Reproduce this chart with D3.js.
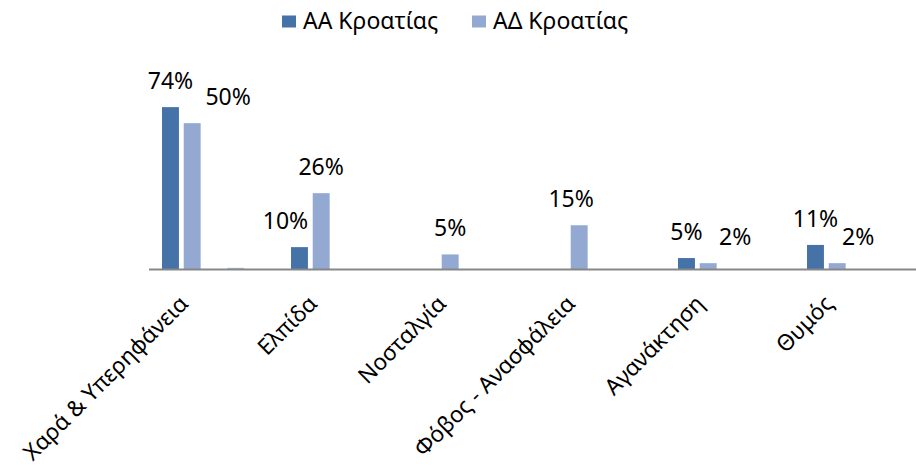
<!DOCTYPE html>
<html><head><meta charset="utf-8">
<script src="https://cdn.jsdelivr.net/npm/d3@7"></script>
<style>body{margin:0;background:#fff;}svg{display:block;font-family:"Noto Sans",sans-serif;}</style>
</head><body><svg id="c" width="916" height="472"></svg>
<script>
// data
const cats = ["Χαρά & Υπερηφάνεια","Ελπίδα","Νοσταλγία","Φόβος - Ανασφάλεια","Αγανάκτηση","Θυμός"];
const seriesNames = ["ΑΑ Κροατίας","ΑΔ Κροατίας"];
const aaValues = [74, 10, 0, 0, 5, 11];
const adValues = [50, 26, 5, 15, 2, 2];
const extraValues = [0.4, 0, 0, 0, 0, 0];
const aaLabels = ["74%","10%","","","5%","11%"];
const adLabels = ["50%","26%","5%","15%","2%","2%"];

// layout (not data)
const aaLabelDx = [0,-14,0,0,0,0];
const adLabelDx = [36,0,0,-8,27,21];
const colors = {aa:"#4572A7", ad:"#93A9D1", extra:"#A8BCD9"};
const FS = 23;

const svg = d3.select("#c");
const baseY = 269;
const x = d3.scaleBand().domain(cats).range([149, 923]);
const slot = d3.scaleBand().domain(["aa","ad","s3","extra","s5"]).range([13, 116.8]).paddingInner(0.22).paddingOuter(0);
const yAA = d3.scaleLinear().domain([0, 80]).range([baseY, baseY - 175]);
const yAD = d3.scaleLinear().domain([0, 60]).range([baseY, baseY - 175]);

function drawSeries(vals, key, scale, color){
  svg.append("g").selectAll("rect").data(vals.map((v,i)=>({v,c:cats[i]})).filter(d=>d.v>0))
    .join("rect")
    .attr("x", d => x(d.c) + slot(key))
    .attr("width", slot.bandwidth())
    .attr("y", d => scale(d.v))
    .attr("height", d => baseY - scale(d.v))
    .attr("fill", color);
}
drawSeries(aaValues, "aa", yAA, colors.aa);
drawSeries(adValues, "ad", yAD, colors.ad);
drawSeries(extraValues, "extra", yAD, colors.extra);

// axis line
const xAxis = d3.axisBottom(x).tickSize(0).tickFormat("");
const ax = svg.append("g").attr("transform", `translate(0,${baseY+0.5})`).call(xAxis);
ax.select(".domain").attr("stroke", "#878787").attr("stroke-width", 2).attr("d", "M149,0H923");

// category labels
svg.append("g").selectAll("text").data(cats).join("text")
  .attr("transform", d => `translate(${x(d) + x.bandwidth()/2 - 24},305) rotate(-45)`)
  .attr("text-anchor", "end")
  .attr("font-size", 22.5)
  .attr("fill", "#000")
  .text(d => d);

// value labels
function drawLabels(vals, labels, dxs, key, scale){
  svg.append("g").selectAll("text").data(vals.map((v,i)=>({v,i,c:cats[i],l:labels[i]})).filter(d=>d.l))
    .join("text")
    .attr("x", d => x(d.c) + slot(key) + slot.bandwidth()/2 + dxs[d.i])
    .attr("y", d => scale(d.v) - 18)
    .attr("text-anchor", "middle")
    .attr("font-size", FS)
    .attr("fill", "#000")
    .text(d => d.l);
}
drawLabels(aaValues, aaLabels, aaLabelDx, "aa", yAA);
drawLabels(adValues, adLabels, adLabelDx, "ad", yAD);

// legend
const legend = svg.append("g");
const legItems = [{n:seriesNames[0], c:colors.aa, x:282},{n:seriesNames[1], c:colors.ad, x:472}];
legItems.forEach(it => {
  legend.append("rect").attr("x", it.x).attr("y", 15.5).attr("width", 14).attr("height", 12).attr("fill", it.c);
  legend.append("text").attr("x", it.x + 21).attr("y", 28.5).attr("font-size", FS).attr("fill", "#000").text(it.n);
});
</script>
</body></html>
